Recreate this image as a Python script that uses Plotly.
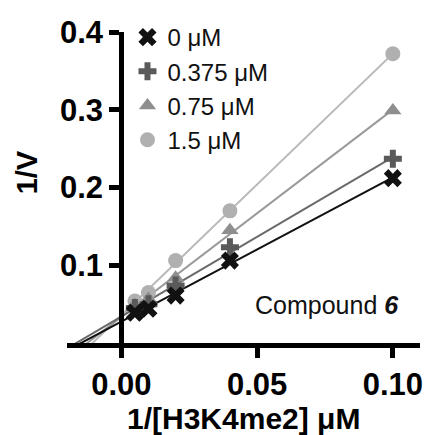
import numpy as np
import plotly.graph_objects as go

# Data
x_vals = [0.005, 0.01, 0.02, 0.04, 0.1]
series_names = ["0 μM", "0.375 μM", "0.75 μM", "1.5 μM"]
y_0 = [0.039, 0.044, 0.061, 0.106, 0.212]
y_0375 = [0.045, 0.050, 0.074, 0.123, 0.237]
y_075 = [0.049, 0.057, 0.084, 0.145, 0.299]
y_15 = [0.054, 0.065, 0.106, 0.170, 0.372]
x_ticks = [0.0, 0.05, 0.10]
x_tick_labels = ["0.00", "0.05", "0.10"]
y_ticks = [0.1, 0.2, 0.3, 0.4]
y_tick_labels = ["0.1", "0.2", "0.3", "0.4"]

X_RANGE = [-0.02, 0.11]
Y_RANGE = [0, 0.4]
FONT = "Liberation Sans, Arial, Helvetica, sans-serif"

styles = {
    "0 μM": dict(symbol="x", mcolor="#111111", lcolor="#111111", size=16),
    "0.375 μM": dict(symbol="cross", mcolor="#5a5a5a", lcolor="#6a6a6a", size=15),
    "0.75 μM": dict(symbol="triangle-up", mcolor="#8e8e8e", lcolor="#9a9a9a", size=15),
    "1.5 μM": dict(symbol="circle", mcolor="#b0b0b0", lcolor="#b8b8b8", size=15),
}
ys = {"0 μM": y_0, "0.375 μM": y_0375, "0.75 μM": y_075, "1.5 μM": y_15}

fig = go.Figure()

# regression lines (drawn first), light to dark so dark lies on top
draw_order = ["1.5 μM", "0.75 μM", "0.375 μM", "0 μM"]
for name in draw_order:
    slope, intercept = np.polyfit(x_vals, ys[name], 1)
    xl = [X_RANGE[0], max(x_vals)]
    yl = [slope * xv + intercept for xv in xl]
    fig.add_trace(go.Scatter(x=xl, y=yl, mode="lines",
                             line=dict(color=styles[name]["lcolor"], width=2),
                             showlegend=False, hoverinfo="skip"))

for name in draw_order:
    st = styles[name]
    fig.add_trace(go.Scatter(x=x_vals, y=ys[name], mode="markers", name=name,
                             marker=dict(symbol=st["symbol"], color=st["mcolor"],
                                         size=st["size"], line=dict(width=0)),
                             legendrank=series_names.index(name)))

ml, mr, mt, mb = 67, 8, 32, 92
W, H = 431, 435
y_axis_pos = (0 - X_RANGE[0]) / (X_RANGE[1] - X_RANGE[0])

fig.update_layout(
    width=W, height=H,
    margin=dict(l=ml, r=mr, t=mt, b=mb, pad=0),
    paper_bgcolor="white", plot_bgcolor="white",
    font=dict(family=FONT, color="black"),
    showlegend=True,
    legend=dict(x=(128 - ml) / (W - ml - mr), y=(H - mb - 15) / (H - mt - mb),
                xanchor="left", yanchor="top",
                font=dict(size=24, family=FONT, color="#111111"),
                bgcolor="rgba(0,0,0,0)", tracegroupgap=0,
                itemwidth=30, traceorder="normal"),
    xaxis=dict(range=X_RANGE, tickvals=x_ticks, ticktext=x_tick_labels,
               showgrid=False, zeroline=False, showline=True, linewidth=5,
               linecolor="black", ticks="outside", ticklen=10, tickwidth=5,
               tickcolor="black",
               tickfont=dict(size=31, family=FONT, weight="bold", color="black")),
    yaxis=dict(range=Y_RANGE, tickvals=y_ticks, ticktext=y_tick_labels,
               anchor="free", position=y_axis_pos,
               showgrid=False, zeroline=False, showline=True, linewidth=5,
               linecolor="black", ticks="outside", ticklen=10, tickwidth=5,
               tickcolor="black",
               tickfont=dict(size=31, family=FONT, weight="bold", color="black")),
)

pw, ph = W - ml - mr, H - mt - mb
def px_to_paper(px, py):
    return (px - ml) / pw, (H - mb - py) / ph

tx, ty = px_to_paper(245, 418)
fig.add_annotation(text="<b>1/[H3K4me2] μM</b>", x=tx, y=ty, xref="paper", yref="paper",
                   showarrow=False, xanchor="center", yanchor="middle",
                   font=dict(size=30, family=FONT, color="black"))
tx, ty = px_to_paper(27, 172)
fig.add_annotation(text="<b>1/V</b>", x=tx, y=ty, xref="paper", yref="paper",
                   showarrow=False, xanchor="center", yanchor="middle", textangle=-90,
                   font=dict(size=29, family=FONT, color="black"))
tx, ty = px_to_paper(404, 305)
fig.add_annotation(text="Compound <b><i>6</i></b>", x=tx, y=ty, xref="paper", yref="paper",
                   showarrow=False, xanchor="right", yanchor="middle",
                   font=dict(size=25, family=FONT, color="#111111"))

fig.write_html("out.html")
